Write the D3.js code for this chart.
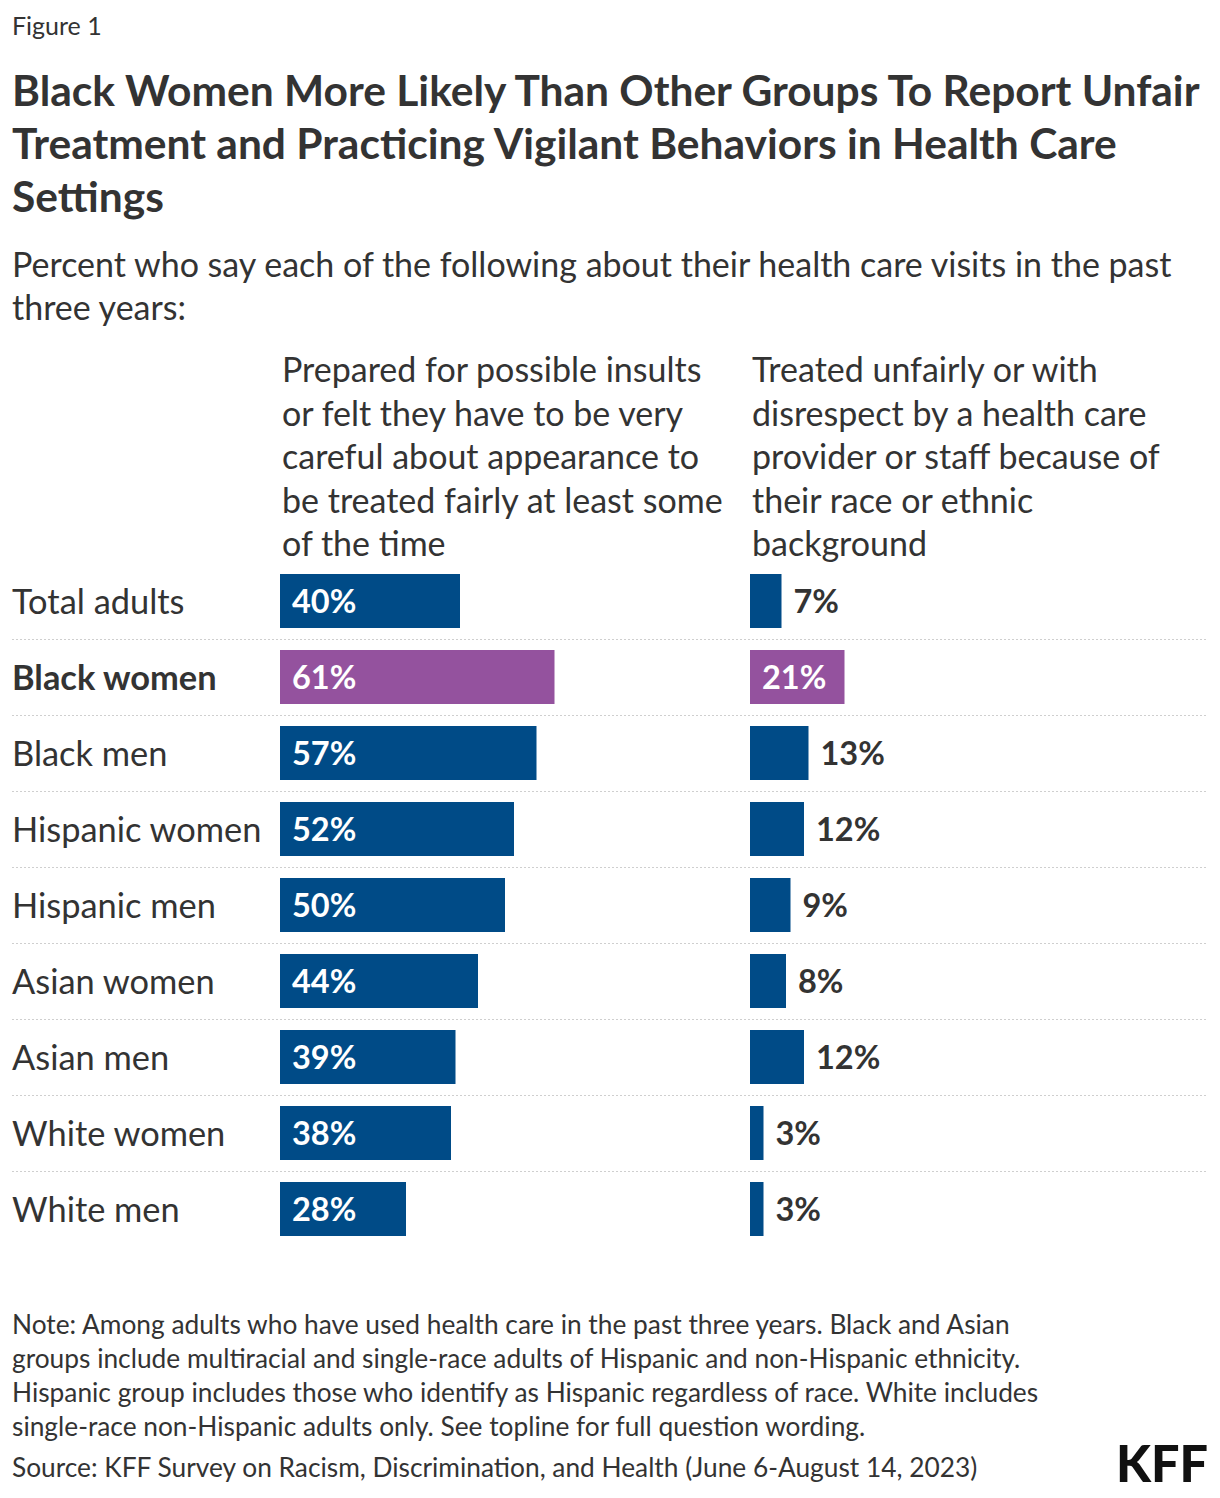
<!DOCTYPE html>
<html>
<head>
<meta charset="utf-8">
<script src="https://cdn.jsdelivr.net/npm/d3@7"></script>
<style>
  html, body { margin: 0; padding: 0; background: #fff; }
  svg { display: block; }
  text { font-family: Lato, "Noto Sans", sans-serif; fill: #333; }
</style>
</head>
<body>
<svg id="chart" width="1220" height="1498"></svg>
<script>
const categories = ["Total adults", "Black women", "Black men", "Hispanic women", "Hispanic men", "Asian women", "Asian men", "White women", "White men"];
const preparedValues = [40, 61, 57, 52, 50, 44, 39, 38, 28];
const treatedValues = [7, 21, 13, 12, 9, 8, 12, 3, 3];
const highlightCategory = "Black women";
const seriesHeaders = [
  ["Prepared for possible insults", "or felt they have to be very", "careful about appearance to", "be treated fairly at least some", "of the time"],
  ["Treated unfairly or with", "disrespect by a health care", "provider or staff because of", "their race or ethnic", "background"]
];
const figureLabel = "Figure 1";
const titleLines = ["Black Women More Likely Than Other Groups To Report Unfair", "Treatment and Practicing Vigilant Behaviors in Health Care", "Settings"];
const subtitleLines = ["Percent who say each of the following about their health care visits in the past", "three years:"];
const noteLines = [
  "Note: Among adults who have used health care in the past three years. Black and Asian",
  "groups include multiracial and single-race adults of Hispanic and non-Hispanic ethnicity.",
  "Hispanic group includes those who identify as Hispanic regardless of race. White includes",
  "single-race non-Hispanic adults only. See topline for full question wording."
];
const sourceLine = "Source: KFF Survey on Racism, Discrimination, and Health (June 6-August 14, 2023)";

const BLUE = "#004B87", PURPLE = "#94529E", TEXT = "#333333";
const svg = d3.select("#chart");

function lines(sel, arr, x, y0, lh, size, weight) {
  const t = sel.append("text").attr("x", x).attr("y", y0)
    .style("font-size", size + "px").style("font-weight", weight || 400);
  arr.forEach((l, i) => t.append("tspan").attr("x", x).attr("y", y0 + i * lh).text(l));
  return t;
}

lines(svg, [figureLabel], 12, 35, 0, 25, 400);
lines(svg, titleLines, 12, 106, 53, 42.5, 700);
lines(svg, subtitleLines, 12, 277, 43, 34, 400);

const x = d3.scaleLinear().domain([0, 100]).range([0, 450]);
const y = d3.scaleBand().domain(categories).range([574, 574 + 9 * 76 - 22]).paddingInner(22 / 76).paddingOuter(0);
const colX = [280, 750];

seriesHeaders.forEach((h, i) => lines(svg, h, colX[i] + 2, 382, 43.5, 34, 400));

// separators
svg.append("g").selectAll("line").data(categories.slice(0, -1)).join("line")
  .attr("x1", 12).attr("x2", 1208)
  .attr("y1", d => y(d) + y.bandwidth() + 11.5).attr("y2", d => y(d) + y.bandwidth() + 11.5)
  .attr("stroke", "#cfcfcf").attr("stroke-width", 1.2).attr("stroke-dasharray", "2,2");

// category labels
svg.append("g").selectAll("text").data(categories).join("text")
  .attr("x", 12).attr("y", d => y(d) + 40)
  .style("font-size", "34.4px")
  .style("font-weight", d => d === highlightCategory ? 700 : 400)
  .text(d => d);

[preparedValues, treatedValues].forEach((vals, si) => {
  const g = svg.append("g").attr("transform", `translate(${colX[si]},0)`);
  const data = categories.map((c, i) => ({ c, v: vals[i] }));
  g.selectAll("rect").data(data).join("rect")
    .attr("x", x(0)).attr("y", d => y(d.c))
    .attr("width", d => x(d.v) - x(0)).attr("height", y.bandwidth())
    .attr("fill", d => d.c === highlightCategory ? PURPLE : BLUE);
  g.selectAll("text").data(data).join("text")
    .attr("y", d => y(d.c) + 39)
    .style("font-size", "32.5px").style("font-weight", 700)
    .text(d => d.v + "%")
    .each(function (d) {
      const w = this.getComputedTextLength();
      const bw = x(d.v) - x(0);
      const inside = bw >= w + 22;
      d3.select(this).attr("x", inside ? x(0) + 12 : x(d.v) + 12)
        .style("fill", inside ? "#fff" : TEXT);
    });
});

lines(svg, noteLines, 12, 1334, 34, 26.3, 400);
lines(svg, [sourceLine], 12, 1477, 0, 26.3, 400);

svg.append("text").attr("x", 1116).attr("y", 1482)
  .attr("textLength", 92).attr("lengthAdjust", "spacingAndGlyphs")
  .style("font-size", "51px").style("font-weight", 900).style("fill", "#111")
  .style("font-family", "Lato, sans-serif").text("KFF");
</script>
</body>
</html>
